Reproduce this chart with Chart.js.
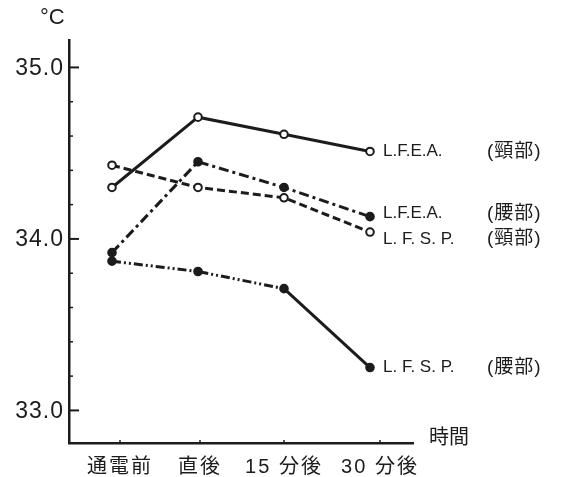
<!DOCTYPE html>
<html>
<head>
<meta charset="utf-8">
<script src="https://cdn.jsdelivr.net/npm/chart.js@4/dist/chart.umd.min.js"></script>
<style>
html,body{margin:0;padding:0;background:#fff;}
#wrap{width:561px;height:477px;position:relative;}
</style>
</head>
<body>
<div id="wrap"><canvas id="c" width="561" height="477"></canvas></div>
<script>
const categories = ['通電前', '直後', '15 分後', '30 分後'];
const seriesNames = ['L.F.E.A.', 'L.F.E.A.', 'L. F. S. P.', 'L. F. S. P.'];
const seriesParts = ['(頸部)', '(腰部)', '(頸部)', '(腰部)'];
const feaNeck = [34.30, 34.71, 34.61, 34.51];
const feaWaist = [33.92, 34.45, 34.30, 34.13];
const fspNeck = [34.43, 34.30, 34.24, 34.04];
const fspWaist = [33.87, 33.81, 33.71, 33.25];
const yTicks = [33.0, 34.0, 35.0];
const yMinorTicks = [33.2, 33.4, 33.6, 33.8, 34.2, 34.4, 34.6, 34.8];
const yUnit = '°C';
const xTitle = '時間';

const INK = '#1c1c1c';
const FONT = '"Liberation Sans", "Noto Sans CJK JP", sans-serif';
const labelNudge = [0, -3, 7, 0];
const xLabelNudge = [8, 2, 0, 10];

const decor = {
  id: 'decor',
  afterDraw(chart) {
    const ctx = chart.ctx;
    const y = chart.scales.y, x = chart.scales.x;
    const ax = x.left;
    ctx.save();
    ctx.strokeStyle = INK;
    ctx.lineWidth = 2;
    yTicks.forEach(v => {
      const py = y.getPixelForValue(v);
      ctx.beginPath(); ctx.moveTo(ax, py); ctx.lineTo(ax + 10, py); ctx.stroke();
    });
    ctx.lineWidth = 1.5;
    yMinorTicks.forEach(v => {
      const py = y.getPixelForValue(v);
      ctx.beginPath(); ctx.moveTo(ax, py); ctx.lineTo(ax + 4, py); ctx.stroke();
    });
    categories.forEach((c, i) => {
      const px = x.getPixelForValue(i) + xLabelNudge[i];
      ctx.beginPath(); ctx.moveTo(px, x.top); ctx.lineTo(px, x.top - 3); ctx.stroke();
    });
    ctx.fillStyle = INK;
    ctx.textBaseline = 'middle';
    // y tick labels
    ctx.font = '23px ' + FONT;
    ctx.letterSpacing = '1px';
    ctx.textAlign = 'right';
    yTicks.forEach(v => {
      ctx.fillText(v.toFixed(1), 64, y.getPixelForValue(v) + 1);
    });
    // x tick labels
    ctx.font = '20px ' + FONT;
    ctx.letterSpacing = '2px';
    ctx.textAlign = 'center';
    categories.forEach((c, i) => {
      ctx.fillText(c, x.getPixelForValue(i) + xLabelNudge[i], 467);
    });
    ctx.letterSpacing = '0px';
    ctx.textAlign = 'left';
    ctx.font = '22px ' + FONT;
    ctx.fillText(yUnit, 40, 18);
    ctx.font = '20px ' + FONT;
    ctx.fillText(xTitle, 429, 438);
    chart.data.datasets.forEach((ds, i) => {
      const meta = chart.getDatasetMeta(i);
      const last = meta.data[meta.data.length - 1];
      const ly = last.y + labelNudge[i];
      ctx.font = '17px ' + FONT;
      ctx.fillText(seriesNames[i], 383, ly);
      ctx.font = '19px ' + FONT;
      ctx.letterSpacing = '1px';
      ctx.fillText(seriesParts[i], 487, ly);
      ctx.letterSpacing = '0px';
    });
    ctx.restore();
  }
};

const common = {
  borderColor: INK,
  pointBorderColor: INK,
  borderWidth: 3,
  pointRadius: 3.8,
  pointBorderWidth: 2,
  tension: 0,
  fill: false
};

new Chart(document.getElementById('c'), {
  type: 'line',
  data: {
    labels: categories,
    datasets: [
      Object.assign({}, common, { label: seriesNames[0] + seriesParts[0], data: feaNeck, pointBackgroundColor: '#fff' }),
      Object.assign({}, common, { label: seriesNames[1] + seriesParts[1], data: feaWaist, pointBackgroundColor: INK, borderDash: [10, 4, 3, 4] }),
      Object.assign({}, common, { label: seriesNames[2] + seriesParts[2], data: fspNeck, pointBackgroundColor: '#fff', borderDash: [8, 4] }),
      Object.assign({}, common, { label: seriesNames[3] + seriesParts[3], data: fspWaist, pointBackgroundColor: INK,
        segment: { borderDash: ctx => ctx.p1DataIndex === 3 ? [] : [9, 3, 2, 3, 2, 3] } })
    ]
  },
  options: {
    responsive: false,
    animation: false,
    layout: { padding: { top: 40, right: 148, left: 0, bottom: 0 } },
    plugins: { legend: { display: false }, tooltip: { enabled: false } },
    scales: {
      x: {
        type: 'category',
        offset: true,
        grid: { display: false, drawTicks: false },
        border: { display: true, color: INK, width: 2.5 },
        ticks: { display: false },
        afterFit: s => { s.height = 34; }
      },
      y: {
        min: 32.81,
        max: 35.16,
        grid: { display: false, drawTicks: false },
        border: { display: true, color: INK, width: 2.5 },
        afterBuildTicks: s => { s.ticks = yTicks.map(v => ({ value: v })); },
        ticks: { display: false },
        afterFit: s => { s.width = 69; }
      }
    }
  },
  plugins: [decor]
});
</script>
</body>
</html>
